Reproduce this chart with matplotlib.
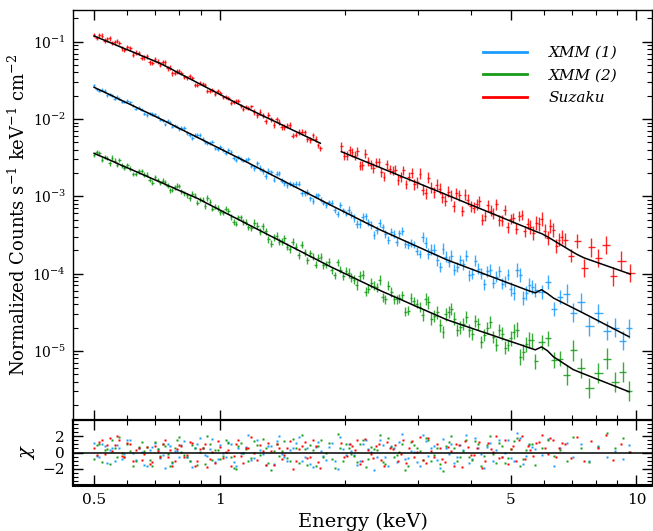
import numpy as np
import matplotlib
matplotlib.use("Agg")
import matplotlib.pyplot as plt
from matplotlib.ticker import FixedLocator, NullFormatter, LogLocator, MultipleLocator, FuncFormatter

# ---------------- data ----------------
# XMM energy bins (keV), shared by both XMM observations: "even" bins carry the model too
xmm_energy_even = [0.50, 0.515, 0.53, 0.545, 0.56, 0.575, 0.59, 0.61, 0.63, 0.65,
                   0.67, 0.69, 0.71, 0.73, 0.75, 0.77, 0.79, 0.81, 0.835, 0.86,
                   0.885, 0.91, 0.935, 0.96, 0.99, 1.02, 1.05, 1.08, 1.11, 1.14,
                   1.17, 1.21, 1.25, 1.29, 1.33, 1.37, 1.41, 1.45, 1.5, 1.55,
                   1.6, 1.65, 1.7, 1.75, 1.8, 1.86, 1.92, 1.98, 2.04, 2.1,
                   2.17, 2.24, 2.31, 2.38, 2.46, 2.54, 2.62, 2.7, 2.79, 2.88,
                   2.97, 3.07, 3.17, 3.27, 3.38, 3.49, 3.6, 3.72, 3.84, 3.97,
                   4.1, 4.24, 4.38, 4.53, 4.68, 4.84, 5.0, 5.17, 5.35, 5.53,
                   5.72, 5.92, 6.12, 6.33, 6.55, 6.8, 7.05, 7.35, 7.7, 8.1,
                   8.5, 8.9, 9.3, 9.6]
xmm_energy_odd = [0.5075, 0.5225, 0.5375, 0.5525, 0.5675, 0.5825, 0.60, 0.62, 0.64, 0.66,
                  0.68, 0.70, 0.72, 0.74, 0.76, 0.78, 0.80, 0.8225, 0.8475, 0.8725,
                  0.8975, 0.9225, 0.9475, 0.975, 1.005, 1.035, 1.065, 1.095, 1.125, 1.155,
                  1.19, 1.23, 1.27, 1.31, 1.35, 1.39, 1.43, 1.475, 1.525, 1.575,
                  1.625, 1.675, 1.725, 1.775, 1.83, 1.89, 1.95, 2.01, 2.07, 2.135,
                  2.205, 2.275, 2.345, 2.42, 2.50, 2.58, 2.66, 2.745, 2.835, 2.925,
                  3.02, 3.12, 3.22, 3.325, 3.435, 3.545, 3.66, 3.78, 3.905, 4.035,
                  4.17, 4.31, 4.455, 4.605, 4.76, 4.92, 5.085, 5.26, 5.44, 5.625]

# XMM (1): log10 normalized counts, log10 errors, residuals, model
xmm1_log_flux_even = [-1.566, -1.633, -1.638, -1.679, -1.738, -1.735, -1.779, -1.781, -1.865, -1.881,
                      -1.948, -1.936, -1.973, -2.019, -2.025, -2.101, -2.103, -2.113, -2.186, -2.250,
                      -2.211, -2.258, -2.313, -2.292, -2.390, -2.405, -2.407, -2.502, -2.489, -2.538,
                      -2.514, -2.632, -2.636, -2.736, -2.692, -2.707, -2.797, -2.859, -2.848, -2.838,
                      -2.963, -3.028, -2.991, -3.043, -3.116, -3.081, -3.230, -3.182, -3.181, -3.280,
                      -3.359, -3.261, -3.372, -3.437, -3.404, -3.567, -3.485, -3.482, -3.621, -3.605,
                      -3.707, -3.528, -3.744, -3.692, -3.916, -3.782, -3.769, -3.916, -3.881, -4.023,
                      -3.834, -4.004, -3.970, -4.118, -3.972, -4.107, -4.199, -3.949, -4.322, -4.144,
                      -4.214, -4.237, -4.107, -4.463, -4.305, -4.259, -4.506, -4.375, -4.683, -4.516,
                      -4.740, -4.700, -4.870, -4.710]
xmm1_log_flux_odd = [-1.615, -1.619, -1.696, -1.691, -1.714, -1.777, -1.761, -1.831, -1.853, -1.930,
                     -1.927, -1.942, -2.011, -2.067, -2.044, -2.087, -2.131, -2.118, -2.213, -2.207,
                     -2.210, -2.295, -2.309, -2.382, -2.365, -2.437, -2.428, -2.531, -2.520, -2.533,
                     -2.609, -2.574, -2.672, -2.674, -2.787, -2.703, -2.828, -2.834, -2.843, -2.962,
                     -2.943, -3.060, -2.987, -3.081, -3.079, -3.177, -3.112, -3.224, -3.238, -3.360,
                     -3.273, -3.339, -3.500, -3.351, -3.491, -3.459, -3.591, -3.449, -3.633, -3.626,
                     -3.745, -3.601, -3.690, -3.829, -3.681, -3.846, -3.951, -3.825, -3.770, -4.002,
                     -3.940, -4.138, -3.950, -4.042, -4.134, -4.017, -4.250, -4.019, -4.247, -4.175]
xmm1_log_err_even = [0.02, 0.02, 0.02, 0.02, 0.02, 0.02, 0.02, 0.02, 0.02, 0.02,
                     0.02, 0.02, 0.02, 0.02, 0.02, 0.02, 0.02, 0.025, 0.025, 0.025,
                     0.025, 0.025, 0.025, 0.025, 0.025, 0.025, 0.025, 0.025, 0.025, 0.025,
                     0.025, 0.035, 0.035, 0.035, 0.035, 0.035, 0.035, 0.035, 0.035, 0.035,
                     0.035, 0.035, 0.035, 0.035, 0.035, 0.035, 0.035, 0.035, 0.05, 0.05,
                     0.05, 0.05, 0.05, 0.05, 0.05, 0.05, 0.05, 0.05, 0.05, 0.05,
                     0.05, 0.07, 0.07, 0.07, 0.07, 0.07, 0.07, 0.07, 0.07, 0.07,
                     0.07, 0.07, 0.07, 0.07, 0.07, 0.07, 0.09, 0.09, 0.09, 0.09,
                     0.09, 0.09, 0.09, 0.09, 0.09, 0.12, 0.12, 0.12, 0.12, 0.12,
                     0.12, 0.12, 0.12, 0.12]
xmm1_log_err_odd = [0.02, 0.02, 0.02, 0.02, 0.02, 0.02, 0.02, 0.02, 0.02, 0.02,
                    0.02, 0.02, 0.02, 0.02, 0.02, 0.02, 0.02, 0.025, 0.025, 0.025,
                    0.025, 0.025, 0.025, 0.025, 0.025, 0.025, 0.025, 0.025, 0.025, 0.025,
                    0.025, 0.035, 0.035, 0.035, 0.035, 0.035, 0.035, 0.035, 0.035, 0.035,
                    0.035, 0.035, 0.035, 0.035, 0.035, 0.035, 0.035, 0.035, 0.05, 0.05,
                    0.05, 0.05, 0.05, 0.05, 0.05, 0.05, 0.05, 0.05, 0.05, 0.05,
                    0.05, 0.07, 0.07, 0.07, 0.07, 0.07, 0.07, 0.07, 0.07, 0.07,
                    0.07, 0.07, 0.07, 0.07, 0.07, 0.07, 0.09, 0.09, 0.09, 0.09]
xmm1_chi_even = [1.2, -0.5, 0.8, 0.3, -1.1, 0.6, -0.2, 1.5, -0.9, 0.1,
                 -1.6, 0.7, 0.4, -0.3, 1.0, -1.3, 0.2, 0.9, -0.6, -1.8,
                 1.1, 0.5, -0.4, 1.7, -0.8, 0.0, 1.3, -1.2, 0.6, -0.1,
                 2.1, -0.7, 0.3, -1.5, 0.8, 1.4, -0.2, -1.0, 0.5, 1.9,
                 -0.6, -1.4, 0.7, 0.2, -0.9, 1.2, -2.0, 0.4, 1.0, -0.3,
                 -1.1, 1.6, 0.1, -0.5, 0.9, -1.7, 0.6, 1.3, -0.8, 0.2,
                 -1.2, 2.2, -0.4, 0.8, -1.9, 0.5, 1.1, -0.6, 0.3, -1.3,
                 1.8, -0.2, 0.7, -1.0, 1.5, 0.0, -0.7, 2.4, -1.4, 0.9,
                 0.4, -0.3, 1.7, -1.6, 0.6, 1.2, -0.5, 1.0, -1.1, 0.8,
                 -0.6, 0.2, -0.8, 0.9]
xmm1_chi_odd = [-0.4, 1.0, -1.3, 0.5, 0.9, -0.8, 1.6, -0.1, 0.6, -1.5,
                0.3, 1.2, -0.7, -1.9, 0.8, 0.2, -0.5, 1.4, -1.0, 0.6,
                1.8, -0.3, 0.4, -1.2, 0.9, -0.6, 1.1, -1.7, 0.0, 0.7,
                -0.9, 1.5, -0.2, 0.8, -1.4, 2.0, -0.6, 0.3, 1.2, -1.1,
                0.5, -1.8, 1.3, -0.4, 0.7, -1.0, 1.9, -0.3, 0.2, -1.5,
                1.0, 0.4, -2.1, 1.6, -0.5, 0.8, -1.2, 2.3, -0.7, 0.1,
                -1.6, 1.4, 0.6, -0.9, 1.7, -0.2, -1.3, 0.9, 2.1, -0.8,
                0.5, -1.9, 1.2, 0.3, -0.6, 1.5, -1.1, 1.8, -0.4, 0.7]
xmm1_log_model = [-1.590, -1.623, -1.654, -1.685, -1.716, -1.747, -1.775, -1.811, -1.847, -1.883,
                  -1.916, -1.950, -1.981, -2.013, -2.045, -2.075, -2.107, -2.135, -2.171, -2.205,
                  -2.239, -2.271, -2.303, -2.334, -2.370, -2.405, -2.439, -2.472, -2.504, -2.535,
                  -2.566, -2.607, -2.646, -2.683, -2.720, -2.756, -2.790, -2.824, -2.865, -2.904,
                  -2.942, -2.979, -3.015, -3.050, -3.084, -3.123, -3.160, -3.196, -3.231, -3.265,
                  -3.304, -3.341, -3.377, -3.412, -3.449, -3.482, -3.515, -3.547, -3.581, -3.615,
                  -3.647, -3.682, -3.716, -3.748, -3.783, -3.817, -3.846, -3.874, -3.902, -3.932,
                  -3.960, -3.990, -4.019, -4.048, -4.077, -4.107, -4.136, -4.165, -4.196, -4.225,
                  -4.250, -4.210, -4.260, -4.319, -4.359, -4.403, -4.446, -4.495, -4.551, -4.612,
                  -4.671, -4.726, -4.780, -4.818]

# XMM (2)
xmm2_log_flux_even = [-2.468, -2.442, -2.494, -2.573, -2.541, -2.531, -2.629, -2.641, -2.710, -2.674,
                      -2.722, -2.825, -2.790, -2.800, -2.865, -2.921, -2.865, -2.935, -2.990, -2.968,
                      -3.081, -3.045, -3.025, -3.159, -3.154, -3.214, -3.193, -3.336, -3.273, -3.333,
                      -3.404, -3.342, -3.458, -3.455, -3.614, -3.509, -3.580, -3.655, -3.587, -3.761,
                      -3.723, -3.738, -3.885, -3.781, -3.887, -3.957, -3.853, -4.036, -3.994, -4.081,
                      -4.028, -4.237, -4.122, -4.180, -4.306, -4.158, -4.335, -4.323, -4.495, -4.318,
                      -4.392, -4.533, -4.374, -4.550, -4.672, -4.529, -4.459, -4.733, -4.655, -4.737,
                      -4.611, -4.886, -4.703, -4.818, -4.732, -4.959, -4.841, -4.727, -5.014, -4.861,
                      -5.138, -4.890, -4.840, -5.120, -5.101, -5.318, -4.996, -5.218, -5.482, -5.282,
                      -5.100, -5.400, -5.270, -5.520]
xmm2_log_flux_odd = [-2.433, -2.525, -2.505, -2.500, -2.592, -2.604, -2.598, -2.712, -2.676, -2.722,
                     -2.786, -2.749, -2.828, -2.821, -2.923, -2.884, -2.869, -2.964, -3.023, -2.993,
                     -3.042, -3.128, -3.076, -3.135, -3.210, -3.162, -3.270, -3.355, -3.275, -3.335,
                     -3.410, -3.384, -3.387, -3.559, -3.528, -3.590, -3.543, -3.688, -3.656, -3.627,
                     -3.827, -3.782, -3.795, -3.892, -3.848, -4.024, -3.951, -3.963, -4.053, -4.148,
                     -4.016, -4.195, -4.157, -4.084, -4.334, -4.241, -4.332, -4.280, -4.482, -4.358,
                     -4.433, -4.334, -4.590, -4.503, -4.761, -4.502, -4.584, -4.698, -4.564, -4.782,
                     -4.657, -4.795, -4.629, -4.919, -4.778, -4.924, -4.754, -5.081, -4.918, -4.865]
xmm2_log_err_even = [0.03, 0.03, 0.03, 0.03, 0.03, 0.03, 0.03, 0.03, 0.03, 0.03,
                     0.03, 0.03, 0.03, 0.03, 0.03, 0.03, 0.03, 0.035, 0.035, 0.035,
                     0.035, 0.035, 0.035, 0.035, 0.035, 0.035, 0.035, 0.035, 0.035, 0.035,
                     0.035, 0.045, 0.045, 0.045, 0.045, 0.045, 0.045, 0.045, 0.045, 0.045,
                     0.045, 0.045, 0.045, 0.045, 0.045, 0.045, 0.045, 0.045, 0.06, 0.06,
                     0.06, 0.06, 0.06, 0.06, 0.06, 0.06, 0.06, 0.06, 0.06, 0.06,
                     0.06, 0.08, 0.08, 0.08, 0.08, 0.08, 0.08, 0.08, 0.08, 0.08,
                     0.08, 0.08, 0.08, 0.08, 0.08, 0.08, 0.10, 0.10, 0.10, 0.10,
                     0.10, 0.10, 0.10, 0.10, 0.10, 0.13, 0.13, 0.13, 0.13, 0.13,
                     0.13, 0.13, 0.13, 0.13]
xmm2_log_err_odd = [0.03, 0.03, 0.03, 0.03, 0.03, 0.03, 0.03, 0.03, 0.03, 0.03,
                    0.03, 0.03, 0.03, 0.03, 0.03, 0.03, 0.03, 0.035, 0.035, 0.035,
                    0.035, 0.035, 0.035, 0.035, 0.035, 0.035, 0.035, 0.035, 0.035, 0.035,
                    0.035, 0.045, 0.045, 0.045, 0.045, 0.045, 0.045, 0.045, 0.045, 0.045,
                    0.045, 0.045, 0.045, 0.045, 0.045, 0.045, 0.045, 0.045, 0.06, 0.06,
                    0.06, 0.06, 0.06, 0.06, 0.06, 0.06, 0.06, 0.06, 0.06, 0.06,
                    0.06, 0.08, 0.08, 0.08, 0.08, 0.08, 0.08, 0.08, 0.08, 0.08,
                    0.08, 0.08, 0.08, 0.08, 0.08, 0.08, 0.10, 0.10, 0.10, 0.10]
xmm2_chi_even = [-0.8, 1.1, 0.3, -1.4, 0.6, 1.9, -0.5, 0.2, -1.0, 1.3,
                 0.7, -1.7, 0.4, 1.0, -0.2, -1.2, 1.6, 0.1, -0.6, 0.9,
                 -1.5, 0.5, 2.0, -0.9, 0.3, -0.4, 1.2, -1.9, 0.8, 0.0,
                 -1.1, 1.4, -0.3, 0.6, -2.1, 1.0, 0.2, -0.7, 1.7, -1.3,
                 0.4, 0.9, -1.6, 1.5, -0.1, -0.8, 2.3, -1.0, 0.5, -0.4,
                 1.1, -1.8, 0.7, 0.3, -1.2, 1.8, -0.6, 0.1, -2.2, 1.3,
                 0.6, -0.9, 1.5, -0.3, -1.4, 0.8, 2.0, -1.1, 0.2, -0.5,
                 1.4, -1.7, 0.9, -0.2, 1.2, -1.3, 0.4, 1.8, -0.8, 1.0,
                 -1.5, 0.6, 1.6, -0.4, 0.3, -1.0, 1.9, 0.5, -1.2, 0.7,
                 2.4, 0.5, 1.8, 0.1]
xmm2_chi_odd = [0.9, -1.2, 0.4, 1.5, -0.6, -0.1, 1.1, -1.6, 0.7, 0.2,
                -0.9, 1.3, -0.4, 0.8, -1.7, 0.5, 1.9, -0.3, -1.1, 0.6,
                0.1, -1.4, 1.0, 0.3, -0.8, 1.6, -0.5, -2.0, 1.2, 0.4,
                -0.7, 0.9, 1.7, -1.3, 0.2, -0.4, 1.4, -1.0, 0.6, 2.1,
                -1.5, 0.3, 0.8, -0.6, 1.2, -1.9, 0.5, 1.0, -0.2, -1.2,
                1.6, -0.8, 0.4, 2.2, -1.4, 0.7, -0.3, 1.1, -1.7, 0.9,
                0.2, 1.8, -1.0, 0.5, -2.3, 1.3, 0.6, -0.5, 1.5, -0.9,
                1.0, -0.4, 2.0, -1.3, 0.8, -0.7, 1.4, -1.6, 0.3, 1.1]
xmm2_log_model = [-2.444, -2.475, -2.503, -2.531, -2.559, -2.588, -2.614, -2.647, -2.680, -2.713,
                  -2.743, -2.774, -2.802, -2.830, -2.859, -2.885, -2.913, -2.938, -2.969, -2.999,
                  -3.028, -3.062, -3.095, -3.127, -3.164, -3.200, -3.235, -3.269, -3.301, -3.333,
                  -3.365, -3.405, -3.444, -3.482, -3.519, -3.554, -3.589, -3.623, -3.663, -3.702,
                  -3.741, -3.778, -3.813, -3.848, -3.882, -3.921, -3.956, -3.991, -4.024, -4.057,
                  -4.094, -4.129, -4.164, -4.198, -4.234, -4.266, -4.299, -4.329, -4.363, -4.396,
                  -4.428, -4.461, -4.494, -4.526, -4.560, -4.593, -4.619, -4.645, -4.671, -4.697,
                  -4.723, -4.750, -4.775, -4.802, -4.828, -4.855, -4.881, -4.907, -4.934, -4.961,
                  -4.988, -4.950, -5.000, -5.080, -5.131, -5.188, -5.243, -5.283, -5.326, -5.373,
                  -5.417, -5.460, -5.501, -5.530]

# Suzaku, soft band (0.5-1.75 keV)
suzaku_low_energy_even = [0.50, 0.515, 0.53, 0.545, 0.56, 0.575, 0.59, 0.61, 0.63, 0.65,
                          0.67, 0.69, 0.71, 0.73, 0.75, 0.77, 0.79, 0.81, 0.835, 0.86,
                          0.885, 0.91, 0.935, 0.96, 0.99, 1.02, 1.05, 1.08, 1.11, 1.14,
                          1.17, 1.21, 1.25, 1.29, 1.33, 1.37, 1.41, 1.45, 1.5, 1.55,
                          1.6, 1.65, 1.7, 1.745]
suzaku_low_energy_odd = [0.5075, 0.5225, 0.5375, 0.5525, 0.5675, 0.5825, 0.60, 0.62, 0.64, 0.66,
                         0.68, 0.70, 0.72, 0.74, 0.76, 0.78, 0.80, 0.8225, 0.8475, 0.8725,
                         0.8975, 0.9225, 0.9475, 0.975, 1.005, 1.035, 1.065, 1.095, 1.125, 1.155,
                         1.19, 1.23, 1.27, 1.31, 1.35, 1.39, 1.43, 1.475, 1.525, 1.575,
                         1.625, 1.675, 1.7225]
suzaku_low_log_flux_even = [-0.911, -0.916, -0.988, -0.955, -1.008, -1.017, -1.105, -1.085, -1.140, -1.208,
                            -1.189, -1.275, -1.260, -1.266, -1.344, -1.408, -1.382, -1.403, -1.468, -1.466,
                            -1.556, -1.550, -1.643, -1.628, -1.633, -1.722, -1.733, -1.784, -1.767, -1.871,
                            -1.855, -1.908, -1.910, -2.029, -2.003, -2.005, -2.103, -2.086, -2.215, -2.167,
                            -2.172, -2.272, -2.257, -2.381]
suzaku_low_log_flux_odd = [-0.950, -0.921, -0.969, -1.016, -0.989, -1.087, -1.067, -1.167, -1.147, -1.202,
                           -1.267, -1.229, -1.299, -1.268, -1.336, -1.407, -1.382, -1.454, -1.446, -1.556,
                           -1.538, -1.557, -1.634, -1.682, -1.669, -1.720, -1.797, -1.763, -1.833, -1.840,
                           -1.838, -1.954, -1.952, -1.951, -2.079, -2.038, -2.102, -2.077, -2.202, -2.171,
                           -2.259, -2.212, -2.342]
suzaku_low_log_err_even = [0.03, 0.03, 0.03, 0.03, 0.03, 0.03, 0.03, 0.03, 0.03, 0.03,
                           0.03, 0.03, 0.03, 0.03, 0.03, 0.03, 0.03, 0.025, 0.025, 0.025,
                           0.025, 0.025, 0.025, 0.025, 0.025, 0.025, 0.025, 0.025, 0.025, 0.025,
                           0.025, 0.035, 0.035, 0.035, 0.035, 0.035, 0.035, 0.035, 0.035, 0.035,
                           0.035, 0.035, 0.035, 0.035]
suzaku_low_log_err_odd = [0.03, 0.03, 0.03, 0.03, 0.03, 0.03, 0.03, 0.03, 0.03, 0.03,
                          0.03, 0.03, 0.03, 0.03, 0.03, 0.03, 0.03, 0.025, 0.025, 0.025,
                          0.025, 0.025, 0.025, 0.025, 0.025, 0.025, 0.025, 0.025, 0.025, 0.025,
                          0.025, 0.035, 0.035, 0.035, 0.035, 0.035, 0.035, 0.035, 0.035, 0.035,
                          0.035, 0.035, 0.035]
suzaku_low_chi_even = [0.5, 1.3, -0.2, 1.8, 0.9, 1.5, -0.6, 1.1, 0.3, -0.9,
                       0.7, -1.2, 0.2, 1.0, -0.5, -1.6, 0.4, 0.8, -0.3, 1.2,
                       -1.0, 0.6, -1.8, 0.1, 1.4, -0.7, 0.3, -0.4, 1.6, -1.3,
                       0.5, -0.1, 0.9, -1.5, 0.2, 1.1, -0.8, 0.6, -2.0, 0.4,
                       1.3, -0.6, 0.8, -1.9]
suzaku_low_chi_odd = [-0.3, 1.6, 0.9, 0.2, 2.0, -0.4, 1.2, -1.1, 0.6, -0.2,
                      -1.4, 0.8, -0.6, 1.5, 0.3, -1.0, 0.9, -0.5, 1.3, -1.7,
                      0.4, 1.0, -0.8, -1.3, 0.7, 0.1, -1.6, 1.1, -0.4, 0.5,
                      1.9, -0.9, 0.2, 1.2, -1.5, 0.6, -0.3, 1.4, -1.1, 0.8,
                      -0.7, 1.6, -1.2]
suzaku_low_log_model = [-0.926, -0.955, -0.982, -1.009, -1.035, -1.062, -1.087, -1.118, -1.149, -1.181,
                        -1.210, -1.239, -1.266, -1.296, -1.329, -1.360, -1.394, -1.423, -1.460, -1.496,
                        -1.531, -1.565, -1.598, -1.630, -1.668, -1.704, -1.740, -1.774, -1.807, -1.838,
                        -1.867, -1.904, -1.941, -1.976, -2.010, -2.043, -2.075, -2.107, -2.145, -2.181,
                        -2.217, -2.251, -2.285, -2.314]

# Suzaku, hard band (1.96-9.7 keV)
suzaku_high_energy_even = [1.96, 2.02, 2.08, 2.14, 2.2, 2.27, 2.34, 2.41, 2.48, 2.56,
                           2.64, 2.72, 2.8, 2.89, 2.98, 3.07, 3.17, 3.27, 3.37, 3.48,
                           3.59, 3.7, 3.82, 3.94, 4.07, 4.2, 4.33, 4.47, 4.61, 4.76,
                           4.91, 5.07, 5.23, 5.4, 5.57, 5.75, 5.93, 6.12, 6.32, 6.52,
                           6.73, 6.95, 7.2, 7.5, 7.8, 8.1, 8.45, 8.8, 9.2, 9.67]
suzaku_high_energy_odd = [1.99, 2.05, 2.11, 2.17, 2.235, 2.305, 2.375, 2.445, 2.52, 2.60,
                          2.68, 2.76, 2.845, 2.935, 3.025, 3.12, 3.22, 3.32, 3.425, 3.535,
                          3.645, 3.76, 3.88, 4.005, 4.135, 4.265, 4.40, 4.54, 4.685, 4.835,
                          4.99, 5.15, 5.315, 5.485, 5.66, 5.84, 6.025, 6.22, 6.42, 6.625]
suzaku_high_log_flux_even = [-2.352, -2.477, -2.433, -2.418, -2.601, -2.547, -2.636, -2.562, -2.746, -2.650,
                             -2.656, -2.751, -2.845, -2.699, -2.819, -2.918, -2.760, -2.950, -2.902, -3.059,
                             -2.991, -2.957, -3.191, -3.046, -3.147, -3.065, -3.255, -3.188, -3.105, -3.318,
                             -3.404, -3.281, -3.255, -3.453, -3.400, -3.350, -3.296, -3.543, -3.435, -3.560,
                             -3.568, -3.767, -3.582, -3.931, -3.663, -3.802, -3.633, -4.038, -3.835, -3.996]
suzaku_high_log_flux_odd = [-2.475, -2.407, -2.477, -2.606, -2.448, -2.592, -2.560, -2.690, -2.587, -2.671,
                            -2.791, -2.663, -2.746, -2.847, -2.708, -2.962, -2.887, -2.853, -3.016, -2.941,
                            -3.132, -2.987, -2.982, -3.132, -3.106, -3.304, -3.117, -3.224, -3.310, -3.179,
                            -3.294, -3.422, -3.242, -3.356, -3.479, -3.355, -3.451, -3.386, -3.646, -3.528]
suzaku_high_log_err_even = [0.06, 0.06, 0.06, 0.06, 0.06, 0.06, 0.06, 0.06, 0.06, 0.06,
                            0.06, 0.06, 0.06, 0.07, 0.07, 0.07, 0.07, 0.07, 0.07, 0.07,
                            0.07, 0.07, 0.07, 0.07, 0.07, 0.07, 0.07, 0.07, 0.07, 0.07,
                            0.07, 0.07, 0.07, 0.07, 0.09, 0.09, 0.09, 0.09, 0.09, 0.09,
                            0.09, 0.09, 0.09, 0.12, 0.12, 0.12, 0.12, 0.12, 0.12, 0.12]
suzaku_high_log_err_odd = [0.06, 0.06, 0.06, 0.06, 0.06, 0.06, 0.06, 0.06, 0.06, 0.06,
                           0.06, 0.06, 0.06, 0.07, 0.07, 0.07, 0.07, 0.07, 0.07, 0.07,
                           0.07, 0.07, 0.07, 0.07, 0.07, 0.07, 0.07, 0.07, 0.07, 0.07,
                           0.07, 0.07, 0.07, 0.07, 0.09, 0.09, 0.09, 0.09, 0.09, 0.09]
suzaku_high_chi_even = [1.2, -0.4, 0.8, 1.5, -1.1, 0.3, -0.7, 1.0, -1.6, 0.5,
                        0.9, -0.2, -1.3, 1.4, 0.1, -0.9, 1.8, -0.5, 0.6, -1.2,
                        0.2, 1.1, -1.8, 0.7, -0.3, 1.3, -1.0, 0.4, 2.0, -0.6,
                        -1.4, 0.8, 1.6, -0.8, 0.3, 1.2, 2.1, -0.2, 1.5, 0.6,
                        1.0, -0.7, 1.9, -1.1, 1.4, 0.5, 2.2, -0.9, 1.1, 0.1]
suzaku_high_chi_odd = [-0.6, 1.0, 0.3, -1.4, 1.7, -0.2, 0.8, -0.9, 1.3, 0.4,
                       -1.1, 1.5, 0.6, -0.5, 1.9, -1.3, 0.2, 1.1, -0.8, 0.7,
                       -1.6, 0.9, 1.4, -0.3, 0.5, -1.9, 1.2, 0.1, -0.7, 1.6,
                       0.4, -1.0, 2.0, 0.8, -0.4, 1.3, 0.6, 1.8, -0.6, 1.2]
suzaku_high_log_model = [-2.424, -2.453, -2.481, -2.508, -2.535, -2.565, -2.594, -2.622, -2.650, -2.680,
                         -2.710, -2.739, -2.767, -2.797, -2.826, -2.855, -2.886, -2.915, -2.944, -2.975,
                         -3.005, -3.034, -3.065, -3.095, -3.126, -3.156, -3.185, -3.216, -3.245, -3.276,
                         -3.306, -3.337, -3.367, -3.397, -3.427, -3.458, -3.485, -3.525, -3.570, -3.614,
                         -3.658, -3.704, -3.753, -3.799, -3.831, -3.862, -3.897, -3.930, -3.967, -4.008]

legend_labels = ["XMM (1)", "XMM (2)", "Suzaku"]
x_tick_values = [0.5, 1, 5, 10]
x_tick_labels = ["0.5", "1", "5", "10"]
chi_tick_values = [-2, 0, 2]

# ---------------- styling ----------------
C_XMM1 = "#1c9cff"
C_XMM2 = "#169c16"
C_SUZ = "#ff0000"

plt.rcParams["font.family"] = ["DejaVu Serif"]
plt.rcParams["mathtext.fontset"] = "dejavuserif"

fig = plt.figure(figsize=(6.53, 5.31), dpi=100)
ax = fig.add_axes([0.1118, 0.2090, 0.8867, 0.7721])
axr = fig.add_axes([0.1118, 0.0866, 0.8867, 0.1224], sharex=ax)


def half_widths(e):
    mids = np.sqrt(e[1:] * e[:-1])
    lo = np.concatenate([[e[0] ** 2 / mids[0]], mids])
    hi = np.concatenate([mids, [e[-1] ** 2 / mids[-1]]])
    return e - lo, hi - e


def draw_series(e_even, e_odd, lf_even, lf_odd, le_even, le_odd, chi_even, chi_odd,
                log_model, color):
    e = np.concatenate([e_even, e_odd]).astype(float)
    lf = np.concatenate([lf_even, lf_odd])
    le = np.concatenate([le_even, le_odd])
    chi = np.concatenate([chi_even, chi_odd])
    order = np.argsort(e)
    e, lf, le, chi = e[order], lf[order], le[order], chi[order]
    f = 10.0 ** lf
    lo = f - f * 10.0 ** (-le)
    hi = f * 10.0 ** le - f
    xl, xh = half_widths(e)
    ax.errorbar(e, f, xerr=[xl, xh], yerr=[lo, hi], fmt="none",
                ecolor=color, elinewidth=1.0, capsize=0, alpha=0.85, zorder=2)
    ax.plot(e_even, 10.0 ** np.asarray(log_model), color="black", lw=1.1, zorder=4)
    axr.plot(e, chi, "s", ms=2.1, color=color, mec="none", zorder=3)


draw_series(xmm_energy_even, xmm_energy_odd, xmm1_log_flux_even, xmm1_log_flux_odd,
            xmm1_log_err_even, xmm1_log_err_odd, xmm1_chi_even, xmm1_chi_odd,
            xmm1_log_model, C_XMM1)
draw_series(xmm_energy_even, xmm_energy_odd, xmm2_log_flux_even, xmm2_log_flux_odd,
            xmm2_log_err_even, xmm2_log_err_odd, xmm2_chi_even, xmm2_chi_odd,
            xmm2_log_model, C_XMM2)
draw_series(suzaku_low_energy_even, suzaku_low_energy_odd, suzaku_low_log_flux_even,
            suzaku_low_log_flux_odd, suzaku_low_log_err_even, suzaku_low_log_err_odd,
            suzaku_low_chi_even, suzaku_low_chi_odd, suzaku_low_log_model, C_SUZ)
draw_series(suzaku_high_energy_even, suzaku_high_energy_odd, suzaku_high_log_flux_even,
            suzaku_high_log_flux_odd, suzaku_high_log_err_even, suzaku_high_log_err_odd,
            suzaku_high_chi_even, suzaku_high_chi_odd, suzaku_high_log_model, C_SUZ)

# legend (line handles)
for lab, col in zip(legend_labels, [C_XMM1, C_XMM2, C_SUZ]):
    ax.plot([], [], color=col, lw=2.0, label=lab)
ax.legend(loc="upper left", bbox_to_anchor=(0.708, 0.912), frameon=False,
          handlelength=2.9, handletextpad=1.4, labelspacing=0.55,
          borderpad=0, borderaxespad=0, prop={"style": "italic", "size": 11})

# axes scales / limits
ax.set_xscale("log")
ax.set_yscale("log")
ax.set_xlim(0.445, 10.9)
ax.set_ylim(1.27e-6, 0.257)
axr.set_ylim(-4, 4)

ax.xaxis.set_major_locator(FixedLocator(x_tick_values))
ax.xaxis.set_minor_locator(FixedLocator([0.6, 0.7, 0.8, 0.9, 2, 3, 4, 6, 7, 8, 9]))
ax.xaxis.set_minor_formatter(NullFormatter())
axr.xaxis.set_major_formatter(FuncFormatter(lambda v, p: x_tick_labels[x_tick_values.index(v)]
                                            if v in x_tick_values else ""))
plt.setp(ax.get_xticklabels(), visible=False)

ax.yaxis.set_major_locator(LogLocator(base=10, numticks=10))
ax.yaxis.set_minor_locator(LogLocator(base=10, subs=np.arange(2, 10), numticks=20))
ax.yaxis.set_minor_formatter(NullFormatter())
ax.yaxis.set_major_formatter(FuncFormatter(lambda v, p: r"$10^{%d}$" % round(np.log10(v))))

axr.yaxis.set_major_locator(FixedLocator(chi_tick_values))
axr.yaxis.set_minor_locator(MultipleLocator(0.5))
axr.yaxis.set_major_formatter(FuncFormatter(lambda v, p: ("%d" % v).replace("-", "\u2212")))

for a in (ax, axr):
    a.tick_params(which="both", direction="in", top=True, right=True, labelsize=11, pad=6)
    a.tick_params(which="major", length=7, width=1.0)
    a.tick_params(which="minor", length=3.5, width=0.8)
    for s in a.spines.values():
        s.set_linewidth(1.0)
ax.tick_params(axis="y", which="major", labelsize=10, pad=5)
axr.spines["bottom"].set_linewidth(2.2)
axr.spines["left"].set_linewidth(1.6)
axr.spines["top"].set_linewidth(1.6)

axr.axhline(0, color="black", lw=1.1, zorder=4)

ax.set_ylabel(r"Normalized Counts s$^{-1}$ keV$^{-1}$ cm$^{-2}$", fontsize=13)
ax.yaxis.set_label_coords(-0.077, 0.5)
axr.set_ylabel(r"$\chi$", fontsize=14)
axr.yaxis.set_label_coords(-0.062, 0.5)
axr.set_xlabel("Energy (keV)", fontsize=14, labelpad=4)

fig.savefig("out.png", dpi=100)
